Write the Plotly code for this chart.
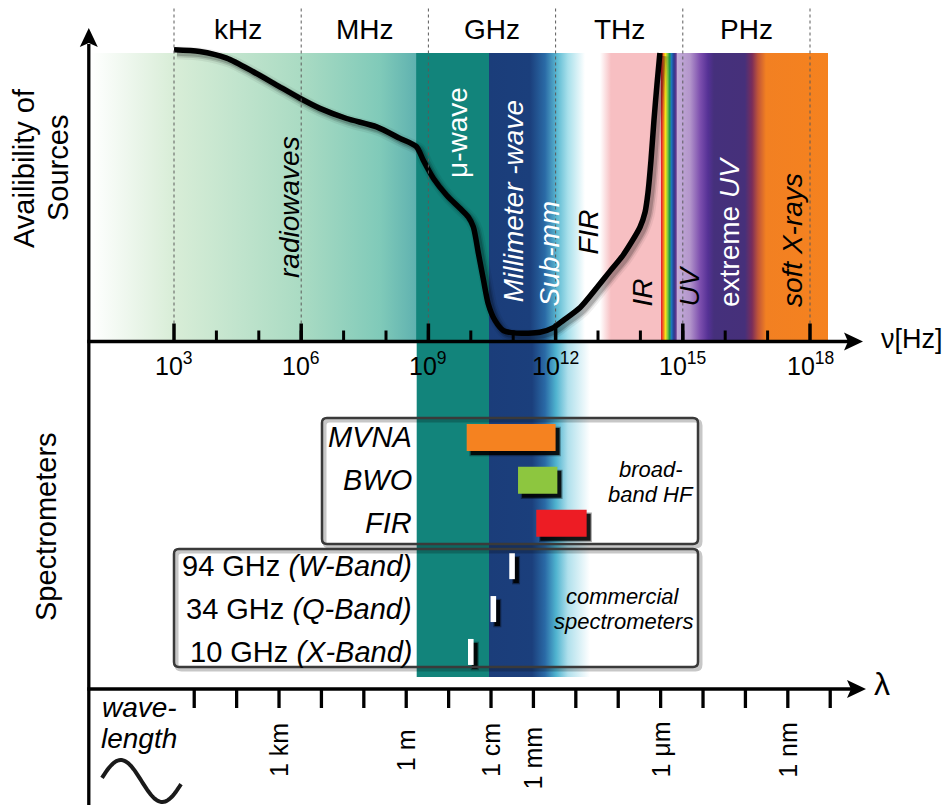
import math
import plotly.graph_objects as go

W, H = 949, 805
C_LIGHT = 2.998e8
FONT = "Liberation Sans, Arial, Helvetica, sans-serif"

# ---------------- data ----------------
# availability of radiation sources vs. log10(frequency / Hz)
curve_logf = [3.0, 3.61, 4.24, 4.87, 5.42, 5.97, 6.44, 7.07, 7.78, 8.33, 8.72, 8.88,
              9.12, 9.43, 9.75, 9.94, 10.06, 10.18, 10.30, 10.41, 10.57, 10.77, 11.08,
              11.63, 11.95, 12.18, 12.58, 12.98, 13.28, 13.59, 13.99, 14.11, 14.18,
              14.25, 14.32, 14.39, 14.46]
curve_avail = [1.011, 1.005, 0.982, 0.935, 0.889, 0.843, 0.808, 0.773, 0.744, 0.704,
               0.675, 0.628, 0.565, 0.507, 0.461, 0.432, 0.397, 0.305, 0.212, 0.131,
               0.073, 0.038, 0.029, 0.032, 0.048, 0.073, 0.118, 0.188, 0.243, 0.299,
               0.396, 0.448, 0.517, 0.628, 0.767, 0.889, 1.0]

decade_exponents = [3, 6, 9, 12, 15, 18]
unit_names = ["kHz", "MHz", "GHz", "THz", "PHz"]

broadband_names = ["MVNA", "BWO", "FIR"]
broadband_low_ghz = [8, 130, 350]
broadband_high_ghz = [1000, 1100, 5400]
broadband_colors = ["#f58220", "#8dc63f", "#ed1c24"]

commercial_ghz = [94, 34, 10]
commercial_bands = ["W", "Q", "X"]

wavelength_labels = ["1 km", "1 m", "1 cm", "1 mm", "1 \u03bcm", "1 nm"]
wavelength_metres = [1e3, 1.0, 1e-2, 1e-3, 1e-6, 1e-9]
wavelength_tick_exponents = list(range(5, -11, -1))

# ---------------- frame ----------------
X_REF, PX_PER_DEC = 174.0, 42.4      # pixel column of 10^3 Hz, pixels per decade
AX_Y, TOP_Y = 341.5, 53.0            # frequency axis row, top of spectral band
LAM_Y = 689.0                        # wavelength axis row
ROW_Y0, ROW_STEP = 544.7, 42.9       # spectrometer rows


def lf(px):
    return 3 + (px - X_REF) / PX_PER_DEC


def PX(px):
    return px / W


def PY(py):
    return 1 - py / H


def row_of(py):
    return 3.5 - (py - ROW_Y0) / ROW_STEP


def avail_of(py):
    return (AX_Y - py) / (AX_Y - TOP_Y)


def lam_to_logf(lam):
    return math.log10(C_LIGHT / lam)


# ---------------- spectral colour bands ----------------
band_stops = [
    (lf(91), "#ffffff"), (lf(174), "#d8edd7"), (lf(301), "#aadbc3"),
    (lf(380), "#80cab9"), (lf(415.5), "#60b2b0"), (lf(416.7), "#12847b"),
    (lf(489), "#12847b"), (lf(489.5), "#1b3d7a"), (lf(530), "#1b3f7c"),
    (lf(545), "#2a6aa6"), (lf(557), "#5cbad2"), (lf(568), "#a8e0eb"),
    (lf(585), "#ffffff"), (lf(600), "#ffffff"), (lf(611), "#f7bfc2"),
    (lf(661), "#f7bfc2"), (lf(661.5), "#e8262a"), (lf(663.5), "#f47b20"),
    (lf(665.5), "#f4e61a"), (lf(667.5), "#8dc63f"), (lf(669.5), "#1f9a4a"),
    (lf(671.5), "#1c75bc"), (lf(674), "#2b3990"), (lf(676), "#62398f"),
    (lf(677.5), "#c3acd9"), (lf(690), "#b395cb"), (lf(700), "#7d4fae"),
    (lf(708), "#553195"), (lf(714), "#45307c"), (lf(745), "#46307a"),
    (lf(752), "#7a2d5a"), (lf(758), "#c05538"), (lf(766), "#f28022"),
    (lf(828), "#f5821f"),
]
strip_stops = [
    (lf(416.7), "#12847b"), (lf(489), "#12847b"), (lf(489.5), "#1b3d7a"),
    (lf(532), "#1b3f7c"), (lf(545), "#2a6aa6"), (lf(556), "#4fb3cf"),
    (lf(568), "#b0e0ec"), (lf(590), "#ffffff"),
]


def gradient_rect(stops, y0, y1, yaxis):
    x0, x1 = stops[0][0], stops[-1][0]
    scale = [[min(1.0, max(0.0, (s - x0) / (x1 - x0))), c] for s, c in stops]
    scale[0][0], scale[-1][0] = 0.0, 1.0
    return go.Scatter(
        x=[x0, x1, x1, x0, x0], y=[y0, y0, y1, y1, y0], mode="none",
        fill="toself", fillgradient=dict(type="horizontal", colorscale=scale,
                                         start=x0, stop=x1),
        hoverinfo="skip", showlegend=False, xaxis="x", yaxis=yaxis)


def rect_trace(x0, x1, yc, h, color, yaxis="y2"):
    return go.Scatter(
        x=[x0, x1, x1, x0, x0], y=[yc - h / 2, yc - h / 2, yc + h / 2, yc + h / 2, yc - h / 2],
        mode="none", fill="toself", fillcolor=color,
        hoverinfo="skip", showlegend=False, xaxis="x", yaxis=yaxis)


fig = go.Figure()
fig.add_trace(gradient_rect(band_stops, 0, 1, "y"))
fig.add_trace(gradient_rect(strip_stops, row_of(677), row_of(AX_Y), "y2"))

# ---------------- availability curve with soft shadow ----------------
sdx, sdy = 3 / PX_PER_DEC, 3 / (AX_Y - TOP_Y)
for w, a in [(13, 0.06), (9, 0.12), (6, 0.18)]:
    fig.add_trace(go.Scatter(
        x=[v + sdx for v in curve_logf], y=[v - sdy for v in curve_avail],
        mode="lines", line=dict(color=f"rgba(0,0,0,{a})", width=w,
                                shape="spline", smoothing=0.7),
        hoverinfo="skip", showlegend=False, yaxis="y"))
fig.add_trace(go.Scatter(
    x=curve_logf, y=curve_avail, mode="lines",
    line=dict(color="black", width=5.5, shape="spline", smoothing=0.7),
    hoverinfo="skip", showlegend=False, yaxis="y"))

# ---------------- spectrometer ranges ----------------
bb_rows = [6, 5, 4]
cm_rows = [3, 2, 1]
bb_lo = [math.log10(v * 1e9) for v in broadband_low_ghz]
bb_hi = [math.log10(v * 1e9) for v in broadband_high_ghz]
cm_lf = [math.log10(v * 1e9) for v in commercial_ghz]

BAR_H = 27 / ROW_STEP
TICK_H = 26 / ROW_STEP
TICK_W = 5.6 / PX_PER_DEC
SH_X, SH_Y = 4 / PX_PER_DEC, 4 / ROW_STEP
BLUR_X, BLUR_Y = 1.2 / PX_PER_DEC, 1.2 / ROW_STEP

for lo, hi, r, col in zip(bb_lo, bb_hi, bb_rows, broadband_colors):
    fig.add_trace(rect_trace(lo + SH_X - BLUR_X, hi + SH_X + BLUR_X, r - SH_Y,
                             BAR_H + 2 * BLUR_Y, "rgba(0,0,0,0.35)"))
    fig.add_trace(rect_trace(lo + SH_X, hi + SH_X, r - SH_Y, BAR_H, "rgba(0,0,0,0.85)"))
    fig.add_trace(rect_trace(lo, hi, r, BAR_H, col))
for c, r in zip(cm_lf, cm_rows):
    lo, hi = c - TICK_W / 2, c + TICK_W / 2
    fig.add_trace(rect_trace(lo + SH_X - BLUR_X, hi + SH_X + BLUR_X, r - SH_Y,
                             TICK_H + 2 * BLUR_Y, "rgba(0,0,0,0.35)"))
    fig.add_trace(rect_trace(lo + SH_X, hi + SH_X, r - SH_Y, TICK_H, "rgba(0,0,0,0.9)"))
    fig.add_trace(rect_trace(lo, hi, r, TICK_H, "white"))

# ---------------- shapes ----------------
shapes = []
# dotted decade separators
for d in decade_exponents:
    shapes.append(dict(type="line", xref="x", yref="paper", x0=d, x1=d,
                       y0=PY(AX_Y), y1=PY(7), layer="above",
                       line=dict(color="#5a5a5a", width=1, dash="dot")))

# frequency ticks: every decade, long ones at the labelled decades
for d in range(4, 18):
    shapes.append(dict(type="line", xref="x", yref="paper", x0=d, x1=d,
                       y0=PY(AX_Y), y1=PY(AX_Y - 11), layer="above",
                       line=dict(color="black", width=3)))
for d in decade_exponents:
    shapes.append(dict(type="line", xref="x", yref="paper", x0=d, x1=d,
                       y0=PY(AX_Y), y1=PY(AX_Y - 18), layer="above",
                       line=dict(color="black", width=3.5)))

AXIS_X = 88.8
# axis lines
shapes.append(dict(type="line", xref="paper", yref="paper", x0=PX(AXIS_X), x1=PX(AXIS_X),
                   y0=PY(H + 2), y1=PY(44), layer="above",
                   line=dict(color="black", width=3.3)))
shapes.append(dict(type="line", xref="paper", yref="paper", x0=PX(AXIS_X - 1.5), x1=PX(848),
                   y0=PY(AX_Y), y1=PY(AX_Y), layer="above",
                   line=dict(color="black", width=3.3)))
shapes.append(dict(type="line", xref="paper", yref="paper", x0=PX(AXIS_X - 1.5), x1=PX(852),
                   y0=PY(LAM_Y), y1=PY(LAM_Y), layer="above",
                   line=dict(color="black", width=3.3)))


def poly(points):
    return "M " + " L ".join(f"{PX(x):.5f},{PY(y):.5f}" for x, y in points) + " Z"


# arrow heads
shapes.append(dict(type="path", xref="paper", yref="paper", layer="above",
                   path=poly([(AXIS_X, 28), (AXIS_X + 9, 47), (AXIS_X, 43), (AXIS_X - 9, 47)]),
                   fillcolor="black", line=dict(width=0)))
for ay, tip in [(AX_Y, 863), (LAM_Y, 866)]:
    shapes.append(dict(type="path", xref="paper", yref="paper", layer="above",
                       path=poly([(tip, ay), (tip - 19, ay - 9), (tip - 15, ay), (tip - 19, ay + 9)]),
                       fillcolor="black", line=dict(width=0)))

# wavelength decade ticks
for k in wavelength_tick_exponents:
    xv = lam_to_logf(10.0 ** k)
    shapes.append(dict(type="line", xref="x", yref="paper", x0=xv, x1=xv,
                       y0=PY(LAM_Y), y1=PY(LAM_Y + 19), layer="above",
                       line=dict(color="black", width=3.3)))


def rrect(x0, y0, x1, y1, r):
    p = lambda x, y: f"{PX(x):.5f},{PY(y):.5f}"
    return (f"M {p(x0 + r, y0)} L {p(x1 - r, y0)} Q {p(x1, y0)} {p(x1, y0 + r)} "
            f"L {p(x1, y1 - r)} Q {p(x1, y1)} {p(x1 - r, y1)} L {p(x0 + r, y1)} "
            f"Q {p(x0, y1)} {p(x0, y1 - r)} L {p(x0, y0 + r)} Q {p(x0, y0)} {p(x0 + r, y0)} Z")


for (bx0, by0, bx1, by1) in [(322, 418, 698, 544), (174, 549, 698, 667)]:
    shapes.append(dict(type="path", xref="paper", yref="paper", layer="above",
                       path=rrect(bx0 + 2.5, by0 + 2.5, bx1 + 2.5, by1 + 2.5, 5),
                       line=dict(color="rgba(0,0,0,0.22)", width=4)))
    shapes.append(dict(type="path", xref="paper", yref="paper", layer="above",
                       path=rrect(bx0, by0, bx1, by1, 5),
                       line=dict(color="#3a3a3a", width=2.5)))

# little sine-wave icon
sine_pts = []
for i in range(61):
    x = 102 + 79 * i / 60
    sine_pts.append((x, 781 - 21 * math.sin(0.15 + 2 * math.pi * (x - 102) / 83)))
shapes.append(dict(type="path", xref="paper", yref="paper", layer="above",
                   path="M " + " L ".join(f"{PX(x):.5f},{PY(y):.5f}" for x, y in sine_pts),
                   line=dict(color="#1a1a1a", width=4)))

# ---------------- annotations ----------------
ann = []


def text(x, y, s, size, color="black", angle=0, xanchor="center", xref="paper", yref="paper"):
    ann.append(dict(x=x, y=y, xref=xref, yref=yref, text=s, showarrow=False,
                    textangle=angle, xanchor=xanchor, yanchor="middle",
                    font=dict(family=FONT, size=size, color=color)))


for i, u in enumerate(unit_names):
    text((decade_exponents[i] + decade_exponents[i + 1]) / 2, PY(29.5), u, 28, xref="x")
for d in decade_exponents:
    text(d, PY(364), f"10<sup>{d}</sup>", 25, xref="x")

text(PX(24), PY(168), "Availibility of", 29, angle=-90)
text(PX(58), PY(168), "Sources", 29, angle=-90)
text(PX(46), PY(527), "Spectrometers", 29, angle=-90)
text(PX(912), PY(339), "\u03bd[Hz]", 27)
text(PX(882), PY(684), "\u03bb", 32)
text(PX(139), PY(707), "<i>wave-</i>", 28)
text(PX(139), PY(738), "<i>length</i>", 28)

band_labels = [
    ("<i>radiowaves</i>", 290, 207, "black"),
    ("\u03bc-wave", 458, 133, "white"),
    ("<i>Millimeter -wave</i>", 513.6, 201.7, "white"),
    ("<i>Sub-mm</i>", 548.6, 254, "white"),
    ("<i>FIR</i>", 588.6, 232, "black"),
    ("<i>IR</i>", 642, 292.5, "black"),
    ("<i>UV</i>", 688.6, 286, "black"),
    ("extreme <i>UV</i>", 730, 232, "white"),
    ("<i>soft X-rays</i>", 792, 240, "black"),
]
for s, x, y, c in band_labels:
    text(PX(x), PY(y), s, 28, color=c, angle=-90)

for name, r in zip(broadband_names, bb_rows):
    text(PX(414), r, f"<i>{name}</i>", 29, xanchor="right", yref="y2")
for f, b, r in zip(commercial_ghz, commercial_bands, cm_rows):
    text(PX(414), r, f"{f} GHz <i>({b}-Band)</i>", 29, xanchor="right", yref="y2")

text(PX(651), PY(469), "<i>broad-</i>", 22)
text(PX(651), PY(494), "<i>band HF</i>", 22)
text(PX(623), PY(596), "<i>commercial</i>", 22)
text(PX(623), PY(621), "<i>spectrometers</i>", 22)

wl_shift = {"1 mm": 8}
for lab, lam in zip(wavelength_labels, wavelength_metres):
    text(lam_to_logf(lam), PY(750 + wl_shift.get(lab, 0)), lab, 25, angle=-90, xref="x")

# ---------------- layout ----------------
fig.update_layout(
    width=W, height=H, margin=dict(l=0, r=0, t=0, b=0, pad=0),
    paper_bgcolor="white", plot_bgcolor="rgba(0,0,0,0)",
    showlegend=False,
    font=dict(family=FONT, color="black"),
    xaxis=dict(range=[lf(0), lf(W)], domain=[0, 1], anchor="y", visible=False,
               fixedrange=True),
    yaxis=dict(domain=[PY(AX_Y), 1], range=[0, avail_of(0)], visible=False,
               fixedrange=True),
    yaxis2=dict(domain=[0, PY(AX_Y)], range=[row_of(H), row_of(AX_Y)], visible=False,
                type="linear", anchor="x", fixedrange=True),
    shapes=shapes, annotations=ann,
)

fig.write_html("out.html")
